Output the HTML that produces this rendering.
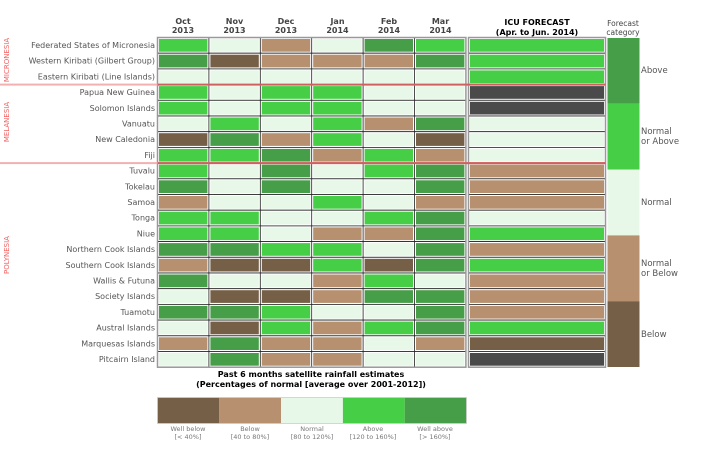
<!DOCTYPE html>
<html><head><meta charset="utf-8"><style>
body{margin:0;background:#fff}
svg{display:block;font-family:"DejaVu Sans","Liberation Sans",sans-serif}
</style></head><body>
<svg id="s" width="710" height="473" viewBox="0 0 710 473">
<g id="g"></g>
<g font-size="8" font-weight="bold" fill="#444" text-anchor="middle">
<text x="183" y="24">Oct</text><text x="183" y="33">2013</text>
<text x="234.5" y="24">Nov</text><text x="234.5" y="33">2013</text>
<text x="286" y="24">Dec</text><text x="286" y="33">2013</text>
<text x="337.5" y="24">Jan</text><text x="337.5" y="33">2014</text>
<text x="389" y="24">Feb</text><text x="389" y="33">2014</text>
<text x="440.5" y="24">Mar</text><text x="440.5" y="33">2014</text>
</g>
<g font-size="8" font-weight="bold" fill="#000" text-anchor="middle">
<text x="537" y="25">ICU FORECAST</text><text x="537" y="35">(Apr. to Jun. 2014)</text>
<text x="311" y="377">Past 6 months satellite rainfall estimates</text>
<text x="311" y="387">(Percentages of normal [average over 2001-2012])</text>
</g>
<g font-size="7.5" fill="#444" text-anchor="middle"><text x="623" y="26">Forecast</text><text x="623" y="35">category</text></g>
<g id="labels" font-size="8" fill="#555" text-anchor="end">
<text x="155" y="48">Federated States of Micronesia</text>
<text x="155" y="63.7">Western Kiribati (Gilbert Group)</text>
<text x="155" y="79.4">Eastern Kiribati (Line Islands)</text>
<text x="155" y="95.1">Papua New Guinea</text>
<text x="155" y="110.8">Solomon Islands</text>
<text x="155" y="126.5">Vanuatu</text>
<text x="155" y="142.2">New Caledonia</text>
<text x="155" y="157.9">Fiji</text>
<text x="155" y="173.6">Tuvalu</text>
<text x="155" y="189.3">Tokelau</text>
<text x="155" y="205">Samoa</text>
<text x="155" y="220.7">Tonga</text>
<text x="155" y="236.4">Niue</text>
<text x="155" y="252.1">Northern Cook Islands</text>
<text x="155" y="267.8">Southern Cook Islands</text>
<text x="155" y="283.5">Wallis &amp; Futuna</text>
<text x="155" y="299.2">Society Islands</text>
<text x="155" y="314.9">Tuamotu</text>
<text x="155" y="330.6">Austral Islands</text>
<text x="155" y="346.3">Marquesas Islands</text>
<text x="155" y="362">Pitcairn Island</text>
</g>
<g font-size="7" fill="#f06060" text-anchor="middle">
<text transform="translate(9,60) rotate(-90)">MICRONESIA</text>
<text transform="translate(9,122) rotate(-90)">MELANESIA</text>
<text transform="translate(9,255) rotate(-90)">POLYNESIA</text>
</g>
<g font-size="8.5" fill="#555">
<text x="641" y="73">Above</text>
<text x="641" y="134">Normal</text><text x="641" y="144">or Above</text>
<text x="641" y="205">Normal</text>
<text x="641" y="266">Normal</text><text x="641" y="276">or Below</text>
<text x="641" y="337">Below</text>
</g>
<g font-size="6.5" fill="#777" text-anchor="middle">
<text x="188" y="431">Well below</text><text x="188" y="439">[&lt; 40%]</text>
<text x="250" y="431">Below</text><text x="250" y="439">[40 to 80%]</text>
<text x="312" y="431">Normal</text><text x="312" y="439">[80 to 120%]</text>
<text x="373" y="431">Above</text><text x="373" y="439">[120 to 160%]</text>
<text x="435" y="431">Well above</text><text x="435" y="439">[&gt; 160%]</text>
</g>
</svg>
<script>
(function(){
var C={A:"#479e48",G:"#46ce46",N:"#e8f8e8",B:"#b7906f",W:"#765f47",K:"#4a4a4a"};
var rows=["GNBNAG","AWBBBA","NNNNNN","GNGGNN","GNGGNN","NGNGBA","WABGNW","GGABGB","GNANGA","ANANNA","BNNGNB","GGNNGA","GGNBBA","AAGGNA","BWWGWA","ANNBGN","NWWBAA","AAGNNA","NWGBGA","BABBNB","NABBNN"];
var fc="GGGKKNNNBBBNGBGBBBGWK";
var ns="http://www.w3.org/2000/svg",g=document.getElementById("g");
function r(x,y,w,h,f,s,sw){var e=document.createElementNS(ns,"rect");e.setAttribute("x",x);e.setAttribute("y",y);e.setAttribute("width",w);e.setAttribute("height",h);e.setAttribute("fill",f);if(s){e.setAttribute("stroke",s);e.setAttribute("stroke-width",sw||1)}g.appendChild(e)}
var T=37.5,rh=15.7,x0=157.5,cw=51.4;
r(x0,T,cw*6,rh*21,"#999");
r(468.5,T,137,rh*21,"#999");
for(var i=0;i<21;i++){var y=T+i*rh;
 r(x0,y,cw*6,rh,"#fff","#222",0.8);
 for(var j=0;j<6;j++){r(x0+j*cw+1.5,y+1.5,cw-3,rh-3,C[rows[i][j]]);}
 r(468.5,y,137,rh,"#fff","#222",0.8);
 r(470,y+1.5,134,rh-3,C[fc[i]]);
}
for(var j=1;j<6;j++){r(x0+j*cw-0.4,T,0.8,rh*21,"#222")}
r(x0,T,cw*6,rh*21,"none","#999",1.5);
r(468.5,T,137,rh*21,"none","#999",1.5);
[T+3*rh,T+8*rh].forEach(function(y){r(0,y-1,605,2,"#f4b0b0");r(x0,y-1,448,2,"#d06060")});
var cc=["A","G","N","B","W"];for(var k=0;k<5;k++)r(607.5,38+k*65.8,32,65.8,C[cc[k]]);
var lc=["W","B","N","G","A"];for(var k=0;k<5;k++)r(157.5+k*61.8,397.5,61.8,26,C[lc[k]]);
r(157.5,397.5,309,26,"none","#ccc",0.8);
})();
</script>
</body></html>
